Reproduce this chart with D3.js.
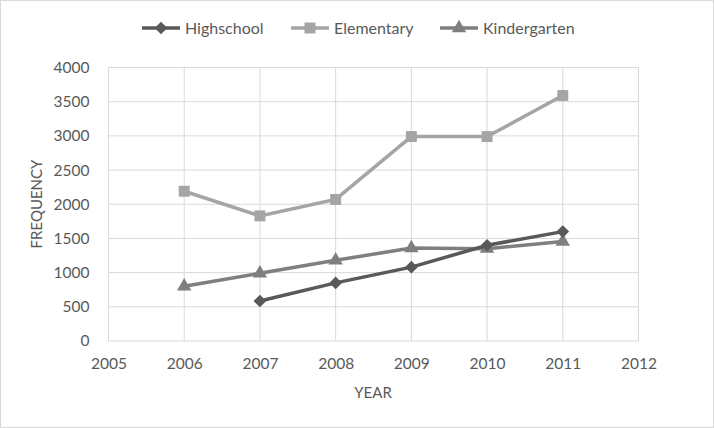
<!DOCTYPE html>
<html>
<head>
<meta charset="utf-8">
<script src="https://cdn.jsdelivr.net/npm/d3@7"></script>
<style>
  body { margin: 0; background: #fff; }
  text { font-family: Lato, "Open Sans", sans-serif; fill: #595959; }
</style>
</head>
<body>
<svg width="714" height="428"></svg>
<script>
// data
var hsYears = [2007, 2008, 2009, 2010, 2011];
var hsValues = [585, 850, 1080, 1400, 1600];
var elYears = [2006, 2007, 2008, 2009, 2010, 2011];
var elValues = [2190, 1830, 2070, 2990, 2990, 3590];
var kgYears = [2006, 2007, 2008, 2009, 2010, 2011];
var kgValues = [800, 990, 1180, 1360, 1350, 1455];
var xTicks = [2005, 2006, 2007, 2008, 2009, 2010, 2011, 2012];
var yTicks = [0, 500, 1000, 1500, 2000, 2500, 3000, 3500, 4000];

var svg = d3.select("svg");

// outer chart border
svg.append("rect")
    .attr("x", 0.5).attr("y", 0.5)
    .attr("width", 713).attr("height", 427)
    .attr("fill", "none").attr("stroke", "#d9d9d9");

var x = d3.scaleLinear().domain([2005, 2012]).range([108.5, 638.5]);
var y = d3.scaleLinear().domain([0, 4000]).range([341, 67.5]);

// gridlines
var g = svg.append("g");
g.selectAll(".vg").data(xTicks).enter().append("line")
    .attr("x1", d => x(d)).attr("x2", d => x(d))
    .attr("y1", y(4000)).attr("y2", y(0))
    .attr("stroke", "#d9d9d9").attr("stroke-width", 1);
g.selectAll(".hg").data(yTicks).enter().append("line")
    .attr("x1", x(2005)).attr("x2", x(2012))
    .attr("y1", d => y(d)).attr("y2", d => y(d))
    .attr("stroke", "#d9d9d9").attr("stroke-width", 1);

// axes (labels only)
var xAxis = svg.append("g")
    .attr("transform", "translate(0," + y(0) + ")")
    .call(d3.axisBottom(x).tickValues(xTicks).tickFormat(d3.format("d")).tickSize(0).tickPadding(17));
var yAxis = svg.append("g")
    .attr("transform", "translate(" + x(2005) + ",0)")
    .call(d3.axisLeft(y).tickValues(yTicks).tickFormat(d3.format("d")).tickSize(0).tickPadding(19));
[xAxis, yAxis].forEach(function (a) {
    a.select(".domain").remove();
    a.selectAll("text").style("font-size", "15.5px").attr("fill", "#595959")
        .style("font-family", "Lato, 'Open Sans', sans-serif");
});

svg.append("text").attr("x", 373).attr("y", 398)
    .attr("text-anchor", "middle").style("font-size", "15px").text("YEAR");
svg.append("text")
    .attr("transform", "translate(42,204) rotate(-90)")
    .attr("text-anchor", "middle").style("font-size", "15px").text("FREQUENCY");

var series = [
    { name: "Highschool", years: hsYears, values: hsValues, color: "#595959", shape: d3.symbolSquare, size: 80, rot: 45 },
    { name: "Elementary", years: elYears, values: elValues, color: "#a5a5a5", shape: d3.symbolSquare, size: 120, rot: 0 },
    { name: "Kindergarten", years: kgYears, values: kgValues, color: "#7f7f7f", shape: d3.symbolTriangle, size: 90, rot: 0 }
];

var line = d3.line().x(d => x(d[0])).y(d => y(d[1]));

// draw in reverse so Highschool on top
series.slice().reverse().forEach(function (s) {
    var pts = s.years.map((yr, i) => [yr, s.values[i]]);
    svg.append("path").datum(pts)
        .attr("d", line).attr("fill", "none")
        .attr("stroke", s.color).attr("stroke-width", 3.5);
    svg.selectAll(null).data(pts).enter().append("path")
        .attr("d", d3.symbol().type(s.shape).size(s.size))
        .attr("transform", d => "translate(" + x(d[0]) + "," + y(d[1]) + ") rotate(" + s.rot + ")")
        .attr("fill", s.color);
});

// legend
var legX = [142, 291, 440];
series.forEach(function (s, i) {
    var lg = svg.append("g").attr("transform", "translate(" + legX[i] + ",28)");
    lg.append("line").attr("x1", 0).attr("x2", 38).attr("y1", 0).attr("y2", 0)
        .attr("stroke", s.color).attr("stroke-width", 3.5);
    lg.append("path").attr("d", d3.symbol().type(s.shape).size(s.size))
        .attr("transform", "translate(19,0) rotate(" + s.rot + ")").attr("fill", s.color);
    lg.append("text").attr("x", 43).attr("y", 5.5).style("font-size", "16px").text(s.name);
});
</script>
</body>
</html>
